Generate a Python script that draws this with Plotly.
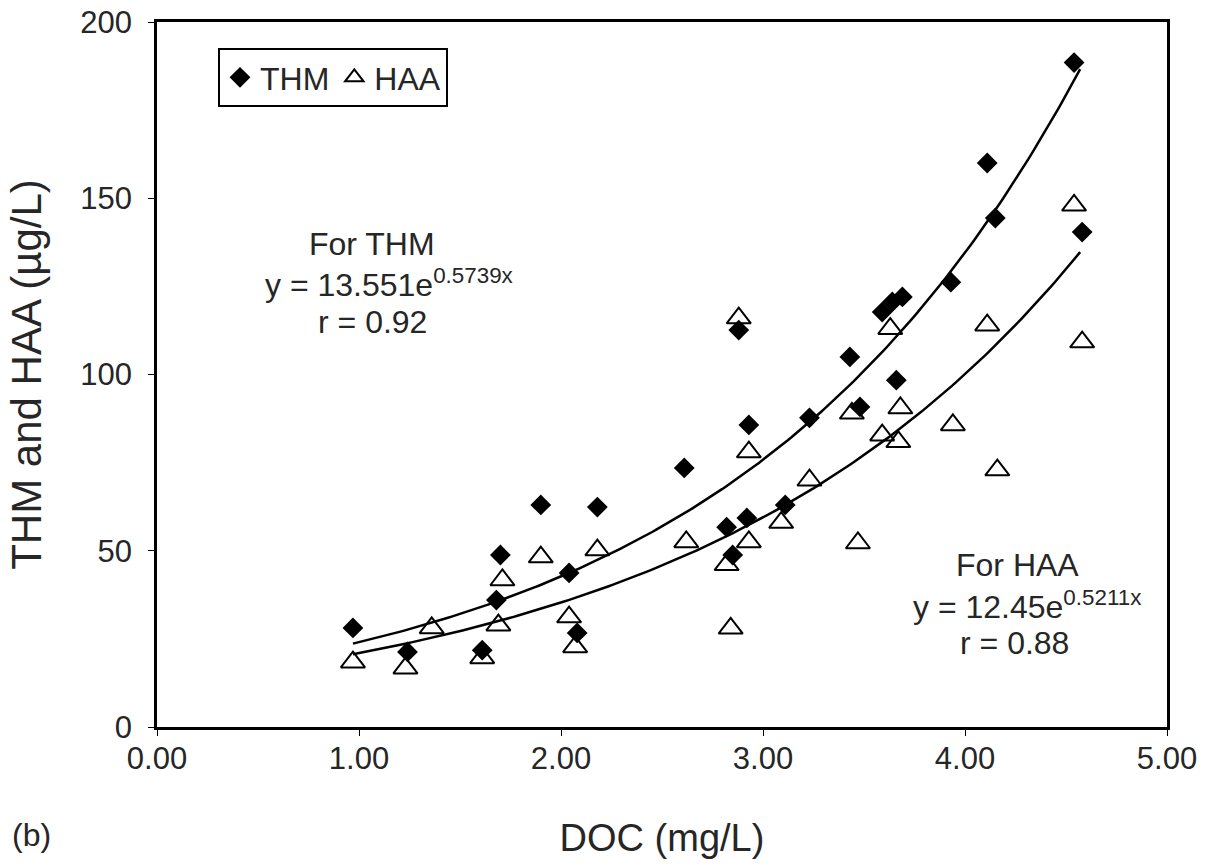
import numpy as np
import plotly.graph_objects as go

# ---- data ----
thm_doc = [0.97, 1.24, 1.61, 1.68, 1.70, 1.90, 2.04, 2.08, 2.18, 2.61, 2.82, 2.85,
           2.88, 2.93, 2.92, 3.11, 3.23, 3.43, 3.48, 3.59, 3.64, 3.69, 3.66, 3.93,
           4.11, 4.15, 4.54, 4.58]
thm_val = [28.1, 21.3, 21.8, 36.0, 48.8, 63.0, 43.7, 26.7, 62.4, 73.5, 56.7, 48.8,
           112.6, 85.7, 59.3, 63.0, 87.7, 105.0, 90.8, 117.7, 120.6, 122.0, 98.4, 126.2,
           160.0, 144.4, 188.5, 140.4]

haa_doc = [0.97, 1.23, 1.36, 1.61, 1.69, 1.71, 1.90, 2.04, 2.07, 2.18, 2.62, 2.82,
           2.84, 2.88, 2.93, 2.93, 3.09, 3.23, 3.44, 3.47, 3.59, 3.63, 3.67, 3.68,
           3.94, 4.11, 4.16, 4.54, 4.58]
haa_val = [18.4, 16.7, 28.1, 19.6, 28.9, 41.7, 48.2, 31.2, 22.7, 50.2, 52.5, 46.0,
           28.0, 116.0, 78.0, 52.5, 58.0, 70.0, 89.0, 52.2, 82.8, 113.0, 80.9, 90.5,
           85.7, 114.0, 72.9, 148.0, 109.2]

# exponential fits stated on the chart: y = a * exp(b x)
thm_fit_a, thm_fit_b = 13.551, 0.5739
haa_fit_a, haa_fit_b = 12.45, 0.5211
fit_x_range = [0.97, 4.57]

x_ticks = [0, 1, 2, 3, 4, 5]
x_ticktext = ["0.00", "1.00", "2.00", "3.00", "4.00", "5.00"]
y_ticks = [0, 50, 100, 150, 200]

FONT = "Arial, Liberation Sans, sans-serif"
TXT = "#262626"

fx = np.linspace(fit_x_range[0], fit_x_range[1], 200)

fig = go.Figure()
fig.add_trace(go.Scatter(x=fx, y=thm_fit_a * np.exp(thm_fit_b * fx), mode="lines",
                         line=dict(color="black", width=2.5), showlegend=False,
                         hoverinfo="skip"))
fig.add_trace(go.Scatter(x=fx, y=haa_fit_a * np.exp(haa_fit_b * fx), mode="lines",
                         line=dict(color="black", width=2.5), showlegend=False,
                         hoverinfo="skip"))
fig.add_trace(go.Scatter(x=thm_doc, y=thm_val, mode="markers", name="THM",
                         marker=dict(symbol="diamond", size=16, color="black")))
fig.add_trace(go.Scatter(x=haa_doc, y=haa_val, mode="markers", name="HAA",
                         marker=dict(symbol="triangle-up-open", size=21, color="black",
                                     line=dict(width=2, color="black"))))

ann_font = dict(family=FONT, size=32, color=TXT)
annotations = [
    dict(x=372, y=244, text="For THM"),
    dict(x=389, y=283, text="y = 13.551e<sup>0.5739x</sup>"),
    dict(x=372, y=322, text="r = 0.92"),
    dict(x=1017, y=565, text="For HAA"),
    dict(x=1027, y=605, text="y = 12.45e<sup>0.5211x</sup>"),
    dict(x=1014, y=643, text="r = 0.88"),
]
L, R, T, B = 157, 1167, 22, 727
W, H = 1205, 865
ann_list = []
for a in annotations:
    ann_list.append(dict(xref="paper", yref="paper",
                         x=(a["x"] - L) / (R - L), y=(B - a["y"]) / (B - T),
                         text=a["text"], showarrow=False, font=ann_font,
                         xanchor="center", yanchor="middle"))
ann_list.append(dict(xref="paper", yref="paper", x=(10 - L) / (R - L), y=(B - 835) / (B - T),
                     text="(b)", showarrow=False, xanchor="left", yanchor="middle",
                     font=dict(family=FONT, size=32, color=TXT)))

fig.update_layout(
    width=W, height=H,
    margin=dict(l=L, r=W - R, t=T, b=H - B, autoexpand=False),
    paper_bgcolor="white", plot_bgcolor="white",
    font=dict(family=FONT, color=TXT),
    annotations=ann_list,
    legend=dict(orientation="h", x=(218 - L) / (R - L), y=(B - 48) / (B - T),
                xanchor="left", yanchor="top", bordercolor="black", borderwidth=2,
                bgcolor="white", font=dict(family=FONT, size=32, color=TXT),
                itemwidth=30, tracegroupgap=0),
    xaxis=dict(range=[0, 5], tickvals=x_ticks, ticktext=x_ticktext, automargin=False,
               showgrid=False, zeroline=False, showline=True, linecolor="black",
               linewidth=2.5, mirror=True, ticks="outside", ticklen=6,
               tickcolor="black", tickfont=dict(family=FONT, size=31, color=TXT),
               ticklabelstandoff=-4,
               title=dict(text="DOC (mg/L)", font=dict(family=FONT, size=38, color=TXT),
                          standoff=50)),
    yaxis=dict(range=[0, 200], tickvals=y_ticks, showgrid=False, zeroline=False,
               automargin=False,
               showline=True, linecolor="black", linewidth=2.5, mirror=True,
               ticks="outside", ticklen=6, tickcolor="black",
               tickfont=dict(family=FONT, size=31, color=TXT), ticklabelstandoff=10,
               title=dict(text="THM and HAA (µg/L)",
                          font=dict(family=FONT, size=42, color=TXT), standoff=26)),
)

fig.write_html("out.html", config={"displayModeBar": False},
               post_script="document.body.style.margin='0px';")
